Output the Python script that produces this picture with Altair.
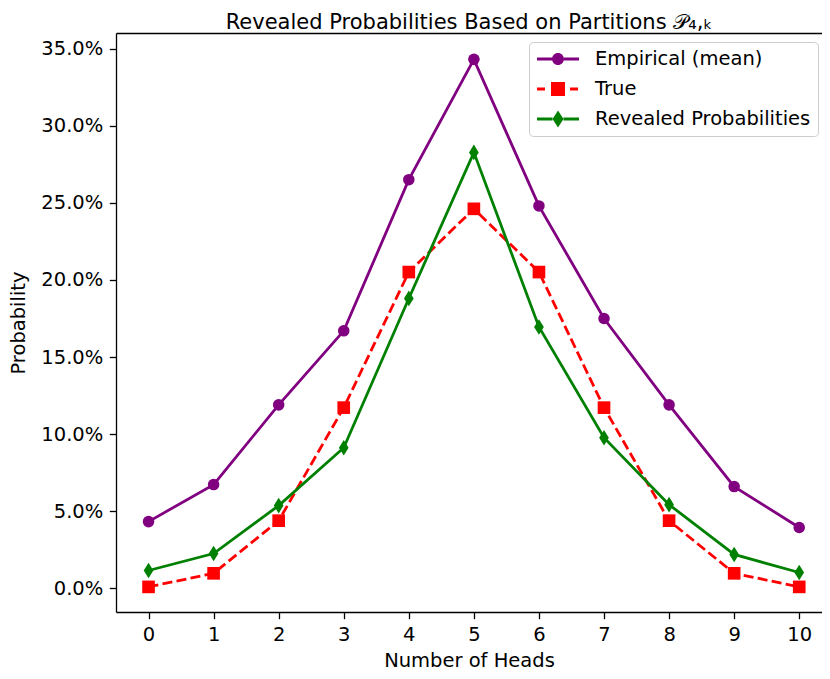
import altair as alt
import pandas as pd

# ---- data ----
heads = list(range(11))
empirical = [0.0433, 0.0673, 0.119, 0.167, 0.265, 0.343, 0.248, 0.175, 0.119, 0.066, 0.0395]
true_p = [0.000977, 0.00977, 0.0439, 0.1172, 0.2051, 0.2461, 0.2051, 0.1172, 0.0439, 0.00977, 0.000977]
revealed = [0.0116, 0.0226, 0.0537, 0.0912, 0.188, 0.2827, 0.1695, 0.0977, 0.0543, 0.022, 0.0103]
series_names = ["Empirical (mean)", "True", "Revealed Probabilities"]
series_colors = ["#800080", "#ff0000", "#008000"]
y_ticks = [0, 0.05, 0.1, 0.15, 0.2, 0.25, 0.3, 0.35]

rows = []
for name, vals in zip(series_names, [empirical, true_p, revealed]):
    for h, v in zip(heads, vals):
        rows.append({"heads": h, "prob": v, "series": name})
df = pd.DataFrame(rows)

FONT = "DejaVu Sans"
FS = 19.5
x_scale = alt.Scale(domain=[-0.5, 10.35], nice=False, zero=False)
y_scale = alt.Scale(domain=[-0.0153, 0.3601], nice=False, zero=False)

x_axis = alt.Axis(title="Number of Heads", values=heads, format="d")
y_axis = alt.Axis(title="Probability", values=y_ticks, format=".1%")
top_axis = alt.Axis(orient="top", labels=False, ticks=False, title=None, domain=True)

diamond_path = "M0,-1 L0.62,0 L0,1 L-0.62,0 Z"
marker_shapes = ["circle", "square", diamond_path]
marker_sizes = [133, 160, 245]
dashes = [None, [10, 4.3], None]

layers = []
first = True
for name, col, shp, sz, dash in zip(series_names, series_colors, marker_shapes, marker_sizes, dashes):
    base = alt.Chart(df).transform_filter(alt.datum.series == name)
    xe = alt.X("heads:Q", scale=x_scale, axis=x_axis if first else None)
    ye = alt.Y("prob:Q", scale=y_scale, axis=y_axis if first else None)
    first = False
    line_kwargs = dict(color=col, strokeWidth=2.8)
    if dash:
        line_kwargs["strokeDash"] = dash
    layers.append(base.mark_line(**line_kwargs).encode(x=xe, y=ye))
    layers.append(base.mark_point(filled=True, shape=shp, size=sz, color=col, opacity=1)
                  .encode(x=alt.X("heads:Q", scale=x_scale, axis=None),
                          y=alt.Y("prob:Q", scale=y_scale, axis=None)))

# legend symbols: line + marker drawn as custom paths (unit = 22 px)
def u(px):
    return round(px / 22.0, 3)

t = u(1.4)
r = u(6)
emp_sym = (f"M{u(-21)},{-t} H{u(-6)} V{t} H{u(-21)} Z "
           f"M{u(6)},{-t} H{u(21)} V{t} H{u(6)} Z "
           f"M{-r},0 A{r},{r} 0 1,0 {r},0 A{r},{r} 0 1,0 {-r},0 Z")
sq = u(7)
true_sym = (f"M{u(-21)},{-t} H{u(-13)} V{t} H{u(-21)} Z "
            f"M{u(12)},{-t} H{u(20)} V{t} H{u(12)} Z "
            f"M{-sq},{-sq} H{sq} V{sq} H{-sq} Z")
dw, dh = u(5.5), u(8.5)
rev_sym = (f"M{u(-21)},{-t} H{u(-5.5)} V{t} H{u(-21)} Z "
           f"M{u(5.5)},{-t} H{u(21)} V{t} H{u(5.5)} Z "
           f"M0,{-dh} L{dw},0 L0,{dh} L{-dw},0 Z")

legend_kw = dict(title=None, orient="none", legendX=413, legendY=9,
                 labelFontSize=FS, labelFont=FONT, labelColor="black", labelLimit=0,
                 symbolStrokeWidth=0, labelOffset=15, padding=7, clipHeight=20,
                 rowPadding=10, strokeColor="#cccccc", fillColor="white",
                 cornerRadius=4, symbolSize=44 * 44)

legend_layer = alt.Chart(df).transform_filter("datum.heads > 100").mark_point(
    filled=True, opacity=1, size=44 * 44
).encode(
    x=alt.X("heads:Q", scale=x_scale, axis=top_axis),
    y=alt.Y("prob:Q", scale=y_scale, axis=None),
    color=alt.Color("series:N", scale=alt.Scale(domain=series_names, range=series_colors),
                    legend=alt.Legend(**legend_kw)),
    shape=alt.Shape("series:N", scale=alt.Scale(domain=series_names,
                                                 range=[emp_sym, true_sym, rev_sym]),
                    legend=alt.Legend(**legend_kw)),
)

chart = alt.layer(*layers, legend_layer).resolve_axis(
    x="independent", y="independent"
).properties(
    width=706, height=579,
    autosize=alt.AutoSizeParams(type="none"),
    padding={"left": 108, "top": 25, "right": 0, "bottom": 59},
    title=alt.TitleParams("Revealed Probabilities Based on Partitions 𝒫₄,ₖ",
                          font=FONT, fontSize=21, fontWeight="normal", color="black",
                          anchor="middle", offset=0),
).configure_view(
    strokeWidth=0
).configure_axis(
    labelFont=FONT, titleFont=FONT, labelFontSize=FS, titleFontSize=FS,
    titleFontWeight="normal", labelColor="black", titleColor="black",
    tickColor="black", domainColor="black", tickSize=6.7, tickWidth=1.3,
    domainWidth=1.3, grid=False, labelPadding=6.5,
).configure_axisY(titlePadding=12).configure_axisX(titlePadding=7.5)

chart.save("out.html", embed_options={"renderer": "svg", "actions": False})
